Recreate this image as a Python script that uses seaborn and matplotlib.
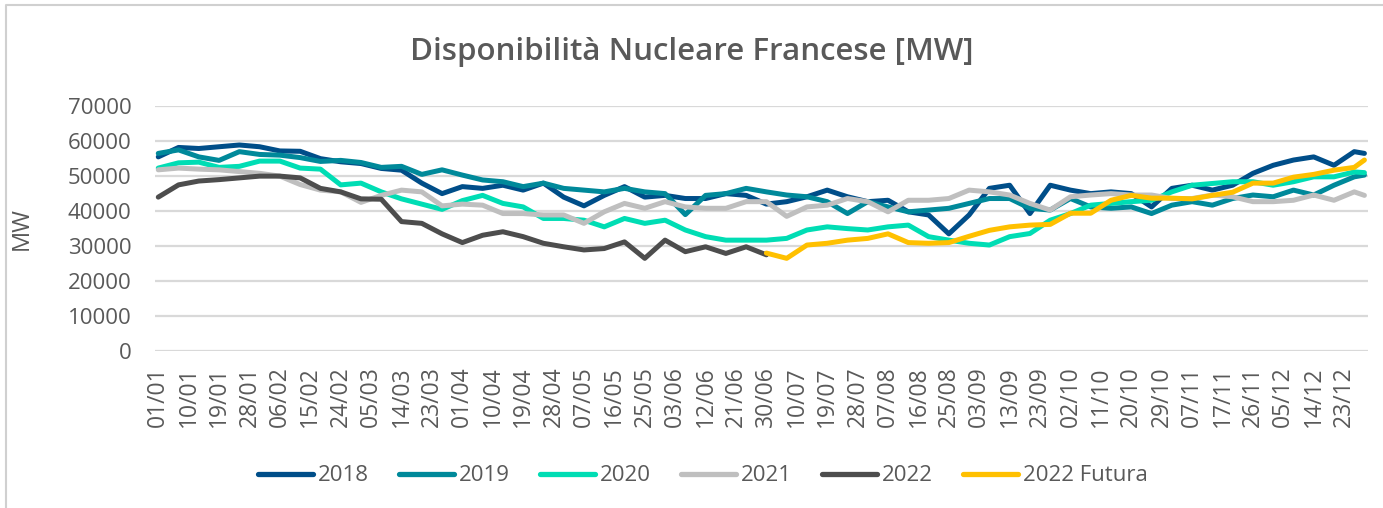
"""
Disponibilita Nucleare Francese [MW] - daily availability by year
"""

import numpy as np
import pandas as pd
import matplotlib
matplotlib.use("Agg")
import matplotlib.pyplot as plt
import seaborn as sns

# ---------------- DATA ----------------
# day index of each sample (every 6 days, plus the last day)
DAYS = list(range(0, 355, 6)) + [357]

Y2018 = [55500, 58200, 57900, 58400, 58900, 58400, 57200, 57100, 55000, 54100,
         53600, 52200, 51700, 48000, 45000, 47000, 46500, 47400, 46000, 48000,
         44000, 41500, 44500, 47000, 44000, 44500, 43600, 43600, 45000, 44500,
         42000, 42700, 44100, 46000, 44100, 42700, 43100, 39800, 38900, 33500,
         38900, 46500, 47400, 39300, 47400, 46000, 45000, 45500, 45000, 41200,
         46500, 47400, 46000, 47400, 50800, 53100, 54600, 55500, 53100, 57000,
         56500]

Y2019 = [56500, 57500, 55500, 54500, 57000, 56200, 56000, 55300, 54200, 54500,
         53900, 52500, 52800, 50500, 51800, 50300, 48900, 48400, 47000, 48000,
         46500, 46000, 45500, 46500, 45500, 45000, 39000, 44500, 45000, 46500,
         45500, 44600, 44100, 42700, 39300, 42700, 41200, 39800, 40300, 40800,
         42200, 43600, 43600, 40800, 40300, 43600, 41200, 40800, 41200, 39300,
         41700, 42700, 41700, 43600, 44600, 44100, 46000, 44600, 47400, 49800,
         50300]

Y2020 = [52300, 53800, 54000, 52500, 52800, 54300, 54300, 52300, 52000, 47500,
         48000, 45500, 43500, 42000, 40500, 43000, 44500, 42200, 41200, 37900,
         37900, 37400, 35500, 37900, 36500, 37400, 34600, 32700, 31700, 31700,
         31700, 32200, 34600, 35500, 35000, 34600, 35500, 36000, 32700, 31700,
         30800, 30300, 32700, 33600, 37400, 39300, 41700, 42200, 42700, 43100,
         45500, 47400, 47900, 48400, 48400, 47400, 48400, 49800, 49800, 51200,
         51000]

Y2021 = [51800, 52300, 52000, 51800, 51300, 50800, 50000, 47600, 46000, 45500,
         42500, 44500, 46000, 45500, 41500, 42000, 41700, 39300, 39300, 38900,
         38900, 36500, 39800, 42200, 40800, 42700, 41200, 40800, 40800, 42700,
         42700, 38500, 41200, 41700, 43600, 42700, 39800, 43100, 43100, 43600,
         46000, 45500, 44600, 42200, 40300, 44100, 44600, 45000, 44600, 44600,
         43600, 43600, 44600, 44100, 42700, 42700, 43100, 44600, 43100, 45500,
         44500]

Y2022 = [44000, 47500, 48600, 49000, 49500, 50000, 50000, 49500, 46500, 45500,
         43500, 43400, 37000, 36500, 33500, 31000, 33100, 34100, 32700, 30800,
         29800, 28900, 29300, 31200, 26500, 31700, 28400, 29800, 27900, 29800,
         27500] + [np.nan] * 30

Y2022_FUT = [np.nan] * 30 + [
         28000, 26500, 30300, 30800, 31700, 32200, 33500, 31000, 30800, 31000,
         32800, 34500, 35500, 36000, 36200, 39400, 39400, 43100, 44500, 43700,
         43700, 43500, 44500, 45400, 48000, 48000, 49700, 50500, 51700, 52500,
         54600]

SERIES = ["2018", "2019", "2020", "2021", "2022", "2022 Futura"]
COLORS = ["#004E89", "#00899A", "#00DDB4", "#BFBFBF", "#4D4D4D", "#FFC000"]

TICK_LABELS = ["01/01", "10/01", "19/01", "28/01", "06/02", "15/02", "24/02",
               "05/03", "14/03", "23/03", "01/04", "10/04", "19/04", "28/04",
               "07/05", "16/05", "25/05", "03/06", "12/06", "21/06", "30/06",
               "10/07", "19/07", "28/07", "07/08", "16/08", "25/08", "03/09",
               "13/09", "23/09", "02/10", "11/10", "20/10", "29/10", "07/11",
               "17/11", "26/11", "05/12", "14/12", "23/12"]

# ---------------- TABLE ----------------
frames = []
for name, vals in zip(SERIES, [Y2018, Y2019, Y2020, Y2021, Y2022, Y2022_FUT]):
    frames.append(pd.DataFrame({"day": DAYS, "MW": vals, "anno": name}))
df = pd.concat(frames, ignore_index=True).dropna()

# ---------------- STYLE ----------------
sns.set_theme(style="white")
plt.rcParams["font.family"] = ["Open Sans", "DejaVu Sans"]
TXT = "#595959"

fig = plt.figure(figsize=(13.83, 5.08), dpi=100)
ax = fig.add_axes([0.112, 0.309, 0.877, 0.482])

sns.lineplot(data=df, x="day", y="MW", hue="anno", hue_order=SERIES,
             palette=COLORS, linewidth=3.6, ax=ax, legend=False,
             estimator=None, sort=True)

# ---------------- AXES ----------------
ax.set_ylim(0, 70000)
ax.set_yticks(range(0, 70001, 10000))
ax.set_yticklabels([str(v) for v in range(0, 70001, 10000)],
                   fontsize=16, color=TXT)
ax.set_xlim(-1, 358)
ax.set_xticks([9 * i for i in range(len(TICK_LABELS))])
ax.set_xticklabels(TICK_LABELS, rotation=90, fontsize=16.5, color=TXT)
ax.tick_params(axis="y", length=0, pad=17)
ax.tick_params(axis="x", length=0, pad=11)
ax.set_xlabel("")
ax.set_ylabel("MW", fontsize=17, color=TXT)
ax.yaxis.set_label_coords(-0.1, 0.5)

ax.grid(axis="y", color="#D9D9D9", linewidth=1.6)
ax.set_axisbelow(True)
for s in ax.spines.values():
    s.set_visible(False)

fig.text(0.5, 0.897, "Disponibilità Nucleare Francese [MW]", ha="center",
         va="center", fontsize=22.5, fontweight="semibold", color=TXT)

# legend below the chart
handles = [plt.Line2D([], [], color=c, linewidth=3.8, solid_capstyle="round")
           for c in COLORS]
fig.legend(handles, SERIES, loc="center", bbox_to_anchor=(0.508, 0.063),
           ncol=6, frameon=False, fontsize=16, handlelength=2.5,
           handletextpad=0.2, columnspacing=1.35, labelcolor=TXT)

# light frame on the left and top of the chart
fig.add_artist(plt.Line2D([0.004, 0.004, 1.0], [0.0, 0.99, 0.99],
                          transform=fig.transFigure, color="#D0D0D0",
                          linewidth=1.5))

fig.savefig("out.png", dpi=100)
